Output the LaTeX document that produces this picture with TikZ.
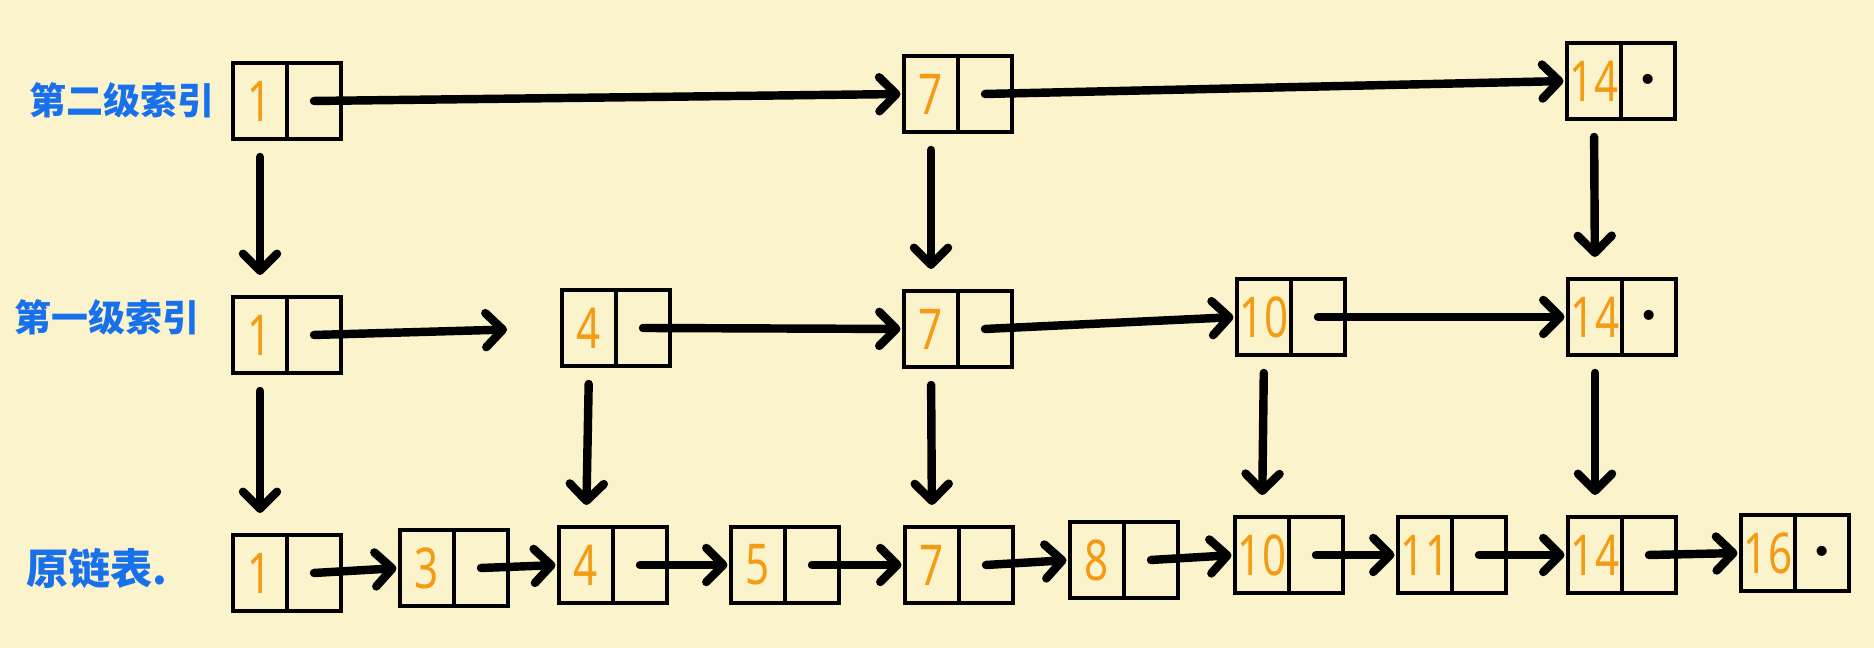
\documentclass[tikz,border=0pt]{standalone}
\usepackage{fontspec}
\newfontfamily\cjkfont{Noto Sans CJK SC}
\newfontfamily\numfont[FakeStretch=0.75]{Noto Sans}
\usetikzlibrary{arrows.meta, positioning}

\definecolor{paper}{RGB}{251,243,203}
\definecolor{inkblue}{RGB}{24,112,236}
\definecolor{inkorange}{RGB}{244,155,20}

\begin{document}
\begin{tikzpicture}[
  keycell/.style={draw, line width=1pt, minimum width=0.54cm, minimum height=0.76cm,
                  inner sep=0pt, outer sep=0pt, text=inkorange,
                  font=\numfont\bfseries\fontsize{16}{16}\selectfont},
  ptrcell/.style={keycell, text=black, font=\fontsize{10}{10}\selectfont},
  lvl/.style    ={text=inkblue, font=\cjkfont\bfseries\fontsize{10.5}{11}\selectfont},
  arr/.style    ={-{Straight Barb[length=1.7mm,width=3.4mm,round]}, line width=2.4pt, line cap=round,
                  shorten >=1pt},
  down/.style   ={arr, shorten <=0.18cm, shorten >=0.22cm},
]
  \fill[paper] (0,0) rectangle (18.74,6.48);
  \useasboundingbox (0,0) rectangle (18.74,6.48);

  % level labels
  \node[lvl] (lab2) at (1.22,5.48) {第二级索引};
  \node[lvl] (lab1) at (1.07,3.31) {第一级索引};
  \node[lvl, font=\cjkfont\bfseries\fontsize{12}{13}\selectfont] (lab0) at (0.97,0.80) {原链表.};

  % second-level index
  \node[keycell] (t1k)  at (2.60,5.47) {1};
  \node[ptrcell, right=0pt of t1k]  (t1p)  {};
  \node[keycell] (t7k)  at (9.31,5.54) {7};
  \node[ptrcell, right=0pt of t7k]  (t7p)  {};
  \node[keycell] (t14k) at (15.94,5.67) {14};
  \node[ptrcell, right=0pt of t14k] (t14p) {\textbullet};

  % first-level index
  \node[keycell] (m1k)  at (2.60,3.13) {1};
  \node[ptrcell, right=0pt of m1k]  (m1p)  {};
  \node[keycell] (m4k)  at (5.89,3.20) {4};
  \node[ptrcell, right=0pt of m4k]  (m4p)  {};
  \node[keycell] (m7k)  at (9.31,3.19) {7};
  \node[ptrcell, right=0pt of m7k]  (m7p)  {};
  \node[keycell] (m10k) at (12.64,3.31) {10};
  \node[ptrcell, right=0pt of m10k] (m10p) {};
  \node[keycell] (m14k) at (15.95,3.31) {14};
  \node[ptrcell, right=0pt of m14k] (m14p) {\textbullet};

  % original list
  \node[keycell] (b1k)  at (2.60,0.75) {1};
  \node[ptrcell, right=0pt of b1k]  (b1p)  {};
  \node[keycell] (b3k)  at (4.27,0.80) {3};
  \node[ptrcell, right=0pt of b3k]  (b3p)  {};
  \node[keycell] (b4k)  at (5.86,0.83) {4};
  \node[ptrcell, right=0pt of b4k]  (b4p)  {};
  \node[keycell] (b5k)  at (7.58,0.83) {5};
  \node[ptrcell, right=0pt of b5k]  (b5p)  {};
  \node[keycell] (b7k)  at (9.32,0.83) {7};
  \node[ptrcell, right=0pt of b7k]  (b7p)  {};
  \node[keycell] (b8k)  at (10.97,0.88) {8};
  \node[ptrcell, right=0pt of b8k]  (b8p)  {};
  \node[keycell] (b10k) at (12.62,0.93) {10};
  \node[ptrcell, right=0pt of b10k] (b10p) {};
  \node[keycell] (b11k) at (14.25,0.93) {11};
  \node[ptrcell, right=0pt of b11k] (b11p) {};
  \node[keycell] (b14k) at (15.95,0.93) {14};
  \node[ptrcell, right=0pt of b14k] (b14p) {};
  \node[keycell] (b16k) at (17.68,0.95) {16};
  \node[ptrcell, right=0pt of b16k] (b16p) {\textbullet};

  % next pointers
  \draw[arr] (t1p.center) -- (t7k.west);
  \draw[arr] (t7p.center) -- (t14k.west);

  \draw[arr, shorten >=0.55cm] (m1p.center) -- (m4k.west);
  \draw[arr] (m4p.center)  -- (m7k.west);
  \draw[arr] (m7p.center)  -- (m10k.west);
  \draw[arr] (m10p.center) -- (m14k.west);

  \draw[arr] (b1p.center)  -- (b3k.west);
  \draw[arr] (b3p.center)  -- (b4k.west);
  \draw[arr] (b4p.center)  -- (b5k.west);
  \draw[arr] (b5p.center)  -- (b7k.west);
  \draw[arr] (b7p.center)  -- (b8k.west);
  \draw[arr] (b8p.center)  -- (b10k.west);
  \draw[arr] (b10p.center) -- (b11k.west);
  \draw[arr] (b11p.center) -- (b14k.west);
  \draw[arr] (b14p.center) -- (b16k.west);

  % down pointers
  \draw[down] (t1k.south)  -- (m1k.north);
  \draw[down] (t7k.south)  -- (m7k.north);
  \draw[down] (t14k.south) -- (m14k.north);

  \draw[down] (m1k.south)  -- (b1k.north);
  \draw[down] (m4k.south)  -- (b4k.north);
  \draw[down] (m7k.south)  -- (b7k.north);
  \draw[down] (m10k.south) -- (b10k.north);
  \draw[down] (m14k.south) -- (b14k.north);
\end{tikzpicture}
\end{document}
